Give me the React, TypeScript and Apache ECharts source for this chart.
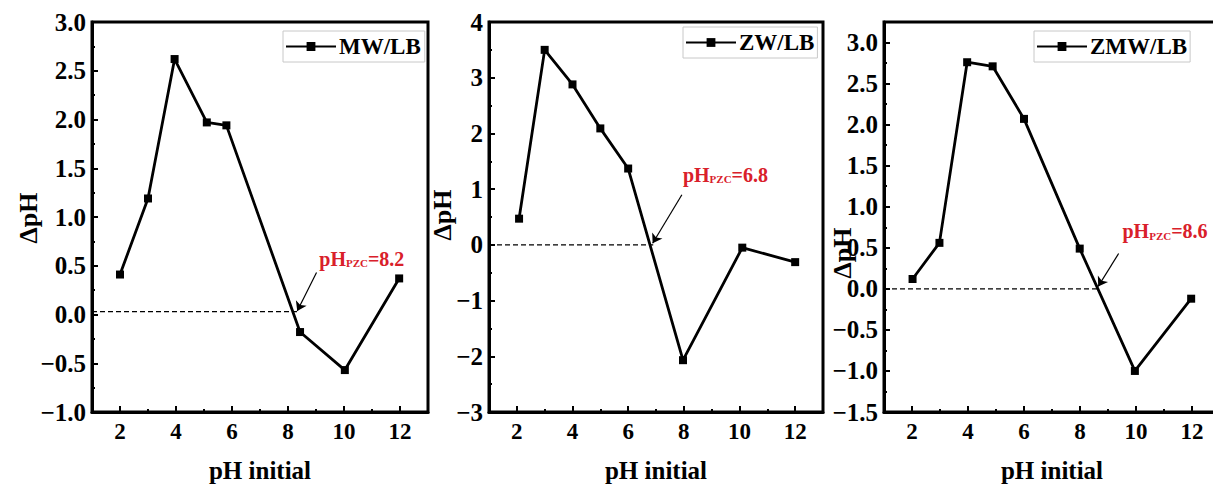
import React, { useEffect, useRef } from 'react';
import * as echarts from 'echarts';

// ---------- data ----------
const seriesNames = ['MW/LB', 'ZW/LB', 'ZMW/LB'];
const mwX = [2, 3, 3.95, 5.1, 5.8, 8.43, 10.03, 11.97];
const mwY = [0.41, 1.19, 2.62, 1.97, 1.94, -0.18, -0.57, 0.37];
const zwX = [2.08, 3, 4, 5, 6, 7.97, 10.1, 12];
const zwY = [0.47, 3.5, 2.88, 2.09, 1.37, -2.07, -0.05, -0.31];
const zmwX = [2.02, 2.98, 3.97, 4.88, 6.0, 7.99, 9.96, 11.97];
const zmwY = [0.12, 0.56, 2.76, 2.71, 2.07, 0.49, -1.0, -0.12];
const pzcLabels = ['8.2', '6.8', '8.6'];
const refLineY = [0.03, 0, 0];
const refLineEnd = [8.4, 6.9, 8.67];
const xTickLabels = [2, 4, 6, 8, 10, 12];
const yRanges = [
  { min: -1, max: 3, interval: 0.5, decimals: 1 },
  { min: -3, max: 4, interval: 1, decimals: 0 },
  { min: -1.5, max: 3.25, interval: 0.5, decimals: 1 },
];

// ---------- layout / style ----------
const FONT = "'Liberation Serif', 'Times New Roman', serif";
const RED = '#d9202a';
const GRID_TOP = 22;
const GRID_HEIGHT = 391;
const layout = [
  {
    gridLeft: 92, gridWidth: 336,
    legend: { left: 283, top: 31, padding: [4, 4, 4, 2] },
    yName: [28, 218],
    label: [9.1, 0.57], arrowFrom: [9.02, 0.43], arrowTo: [8.33, 0.035],
  },
  {
    gridLeft: 489, gridWidth: 334,
    legend: { left: 683, top: 27, padding: [4, 3, 4, 2] },
    yName: [442, 215],
    label: [7.95, 1.26], arrowFrom: [7.93, 0.9], arrowTo: [6.88, 0.03],
  },
  {
    gridLeft: 884, gridWidth: 336,
    legend: { left: 1034, top: 31, padding: [4, 3, 4, 2] },
    yName: [842, 253],
    label: [9.5, 0.7], arrowFrom: [9.38, 0.43], arrowTo: [8.65, 0.03],
  },
];

const fmt = (v: number, d: number) => v.toFixed(d).replace('-', '\u2212');

export default function App() {
  const ref = useRef<HTMLDivElement>(null);
  useEffect(() => {
    if (!ref.current) return;
    const chart = echarts.init(ref.current, undefined, { renderer: 'svg' });
    const datasets = [
      mwX.map((x, i) => [x, mwY[i]]),
      zwX.map((x, i) => [x, zwY[i]]),
      zmwX.map((x, i) => [x, zmwY[i]]),
    ];
    const grids: any[] = [];
    const xAxes: any[] = [];
    const yAxes: any[] = [];
    const series: any[] = [];
    const legends: any[] = [];
    const graphics: any[] = [];
    layout.forEach((L, p) => {
      grids.push({
        left: L.gridLeft, top: GRID_TOP, width: L.gridWidth, height: GRID_HEIGHT,
        show: true, borderColor: '#000', borderWidth: 3, backgroundColor: 'transparent',
      });
      xAxes.push({
        type: 'value', gridIndex: p, position: 'bottom', min: 1, max: 13, interval: 1,
        axisLine: { show: true, onZero: false, lineStyle: { color: '#000', width: 3 } },
        axisTick: { show: true, inside: true, length: 6, customValues: xTickLabels, lineStyle: { color: '#000', width: 2 } },
        axisLabel: {
          show: true, customValues: xTickLabels, margin: 8,
          color: '#000', fontSize: 23, fontWeight: 'bold', fontFamily: FONT,
        },
        splitLine: { show: false },
        name: 'pH initial', nameLocation: 'middle', nameGap: 46,
        nameTextStyle: { color: '#000', fontSize: 25, fontWeight: 'bold', fontFamily: FONT },
      });
      xAxes.push({
        type: 'value', gridIndex: p, position: 'bottom', min: 1, max: 13, interval: 2,
        axisLine: { show: false, onZero: false },
        axisTick: { show: true, inside: true, length: 3, lineStyle: { color: '#000', width: 2 } },
        axisLabel: { show: false },
        splitLine: { show: false },
      });
      const yr = yRanges[p];
      yAxes.push({
        type: 'value', gridIndex: p, position: 'left', min: yr.min, max: yr.max, interval: yr.interval,
        axisLine: { show: true, onZero: false, lineStyle: { color: '#000', width: 3 } },
        axisTick: { show: true, inside: true, length: 6, lineStyle: { color: '#000', width: 2 } },
        minorTick: { show: true, splitNumber: 2, length: 3, lineStyle: { color: '#000', width: 2 } },
        axisLabel: {
          show: true, margin: 6, showMaxLabel: p === 2 ? false : true,
          color: '#000', fontSize: 25, fontWeight: 'bold', fontFamily: FONT,
          formatter: (v: number) => fmt(v, yr.decimals),
        },
        splitLine: { show: false },
        minorSplitLine: { show: false },
      });
      series.push({
        name: seriesNames[p], type: 'line', xAxisIndex: p * 2, yAxisIndex: p,
        data: datasets[p], symbol: 'rect', symbolSize: 8,
        lineStyle: { color: '#000', width: 2.8 }, itemStyle: { color: '#000' },
        z: 3,
      });
      series.push({
        name: 'ref' + p, type: 'line', xAxisIndex: p * 2, yAxisIndex: p,
        data: [[1, refLineY[p]], [refLineEnd[p], refLineY[p]]], symbol: 'none',
        lineStyle: { color: '#000', width: 1.4, type: [5, 3] },
        z: 2,
        markLine: {
          silent: true, symbol: ['none', 'arrow'], symbolSize: 9,
          lineStyle: { color: '#000', width: 1.2, type: 'solid' },
          label: { show: false },
          data: [[{ coord: L.arrowFrom }, { coord: L.arrowTo }]],
        },
        markPoint: {
          silent: true, symbol: 'circle', symbolSize: 1, itemStyle: { color: 'transparent' },
          label: {
            show: true, position: 'right', distance: 0,
            formatter: '{a|pH}{b|PZC}{a|=' + pzcLabels[p] + '}',
            rich: {
              a: { fontSize: 20, fontWeight: 'bold', color: RED, fontFamily: FONT },
              b: { fontSize: 11, fontWeight: 'bold', color: RED, fontFamily: FONT, padding: [9, 0, 0, 0] },
            },
          },
          data: [{ coord: L.label }],
        },
      });
      legends.push({
        data: [seriesNames[p]], left: L.legend.left, top: L.legend.top, padding: L.legend.padding,
        orient: 'horizontal', itemWidth: 50, itemHeight: 11, itemGap: 5,
        borderColor: '#c8c8c8', borderWidth: 1, backgroundColor: '#fff',
        textStyle: { color: '#000', fontSize: 23, fontWeight: 'bold', fontFamily: FONT, padding: [0, 0, 0, -2] },
        selectedMode: false,
      });
      graphics.push({
        type: 'text', x: L.yName[0], y: L.yName[1], rotation: Math.PI / 2,
        style: {
          text: '\u0394pH', fill: '#000', fontSize: 26, fontWeight: 'bold', fontFamily: FONT,
          align: 'center', verticalAlign: 'middle',
        },
        z: 10,
      });
    });
    chart.setOption({
      animation: false,
      backgroundColor: '#fff',
      grid: grids,
      xAxis: xAxes,
      yAxis: yAxes,
      legend: legends,
      series,
      graphic: graphics,
    });
    return () => chart.dispose();
  }, []);
  return (
    <div style={{ position: 'fixed', left: 0, top: 0, width: 1213, height: 488, overflow: 'hidden', background: '#fff' }}>
      <div ref={ref} style={{ width: 1240, height: 488 }} />
    </div>
  );
}
